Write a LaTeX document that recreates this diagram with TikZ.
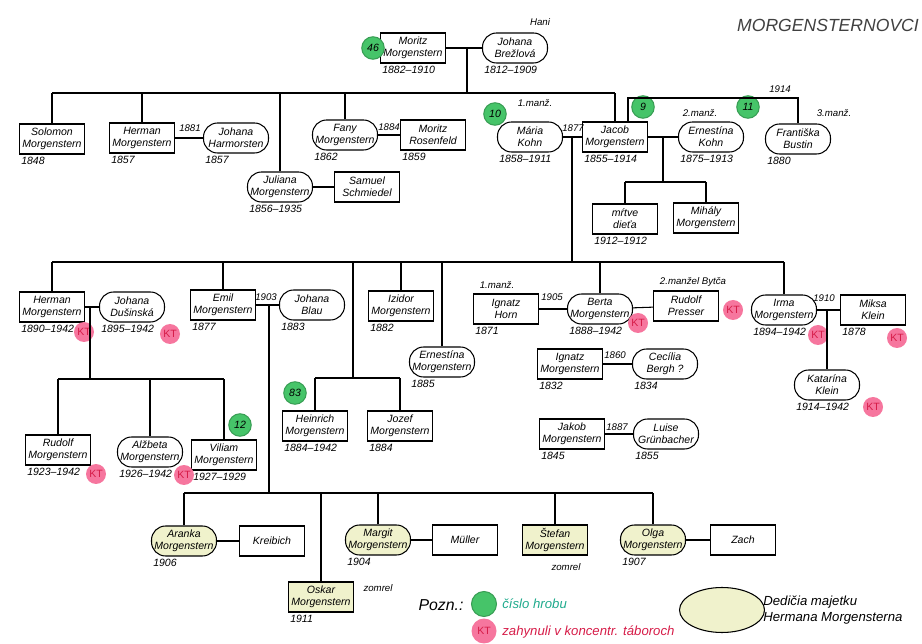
\documentclass[tikz,border=0pt]{standalone}
\usepackage{fontspec}
\setmainfont{Liberation Sans}
\usetikzlibrary{shapes.geometric}
\definecolor{gravegreen}{RGB}{70,196,105}
\definecolor{ktpink}{RGB}{246,118,158}
\definecolor{ktred}{RGB}{214,28,72}
\definecolor{heirfill}{RGB}{240,242,204}
\definecolor{legendgreen}{RGB}{30,170,140}

\begin{document}
\begin{tikzpicture}[x=0.02cm, y=-0.02cm, line width=0.6pt,
  man/.style={draw, minimum width=1.3cm, minimum height=0.6cm, inner sep=1pt,
    align=center, font=\fontsize{6}{7}\selectfont\itshape},
  woman/.style={man, rounded corners=8pt},
  heir/.style={fill=heirfill},
  yr/.style={font=\fontsize{6}{7}\selectfont\itshape, inner sep=1pt, anchor=north west},
  yrs/.style={label={[yr]south west:#1}},
  note/.style={font=\fontsize{5.5}{6}\selectfont\itshape, inner sep=1pt},
  grave/.style={circle, fill=gravegreen, draw=gravegreen!80!black, minimum size=0.45cm,
    inner sep=0pt, font=\fontsize{6}{7}\selectfont\itshape},
  kt/.style={circle, fill=ktpink, minimum size=0.4cm, inner sep=0pt, text=ktred,
    font=\fontsize{6}{7}\selectfont}]
\useasboundingbox (0,0) rectangle (922,644);

\node [font=\fontsize{10}{12}\selectfont\itshape, text=black!75] (title) at (828,25) {MORGENSTERNOVCI};

\node [man, yrs=1882--1910] (moritz) at (413,48) {Moritz\\Morgenstern};
\node [woman, yrs=1812--1909] (johanaB) at (515,48) {Johana\\Brežlová};
\node [note] (hani) at (540,22) {Hani};
\node [grave] (g46) at (373,48) {46};
\coordinate (c0) at (467,48);
\coordinate (bus1L) at (52,93);
\coordinate (bus1R) at (615,93);
\draw (moritz) -- (johanaB);
\draw (c0) -- (c0 |- bus1L);
\draw (bus1L) -- (bus1R);

\node [man, yrs=1848] (solomon) at (52,139) {Solomon\\Morgenstern};
\node [man, yrs=1857] (herman) at (142,138) {Herman\\Morgenstern};
\node [woman, yrs=1857] (johanaH) at (236,138) {Johana\\Harmorsten};
\node [note] (y1881) at (190,128) {1881};
\node [woman, yrs=1856--1935] (juliana) at (280,187) {Juliana\\Morgenstern};
\node [man] (samuel) at (367,187) {Samuel\\Schmiedel};
\node [woman, yrs=1862] (fany) at (345,135) {Fany\\Morgenstern};
\node [man, yrs=1859] (moritzR) at (433,135) {Moritz\\Rosenfeld};
\node [note] (y1884) at (389,127) {1884};
\draw (herman) -- (johanaH);
\draw (juliana) -- (samuel);
\draw (fany) -- (moritzR);
\foreach \n in {solomon, herman, juliana, fany}
  \draw (\n.north) -- (\n.north |- bus1L);

\node [woman, yrs=1858--1911] (maria) at (530,137) {Mária\\Kohn};
\node [man, yrs=1855--1914] (jacob) at (615,137) {Jacob\\Morgenstern};
\node [woman, yrs=1875--1913] (ernestinaK) at (711,137) {Ernestína\\Kohn};
\node [woman, yrs=1880] (frantiska) at (798,139) {Františka\\Bustin};
\node [note] (y1877) at (573,128) {1877};
\node [note] (manz1) at (535,103) {1.manž.};
\node [note] (manz2) at (700,113) {2.manž.};
\node [note] (manz3) at (834,113) {3.manž.};
\node [note] (y1914) at (780,89) {1914};
\node [grave] (g10) at (495,114) {10};
\node [grave] (g9) at (643,107) {9};
\node [grave] (g11) at (748,107) {11};
\coordinate (m3) at (628,98);
\draw (jacob.north) -- (jacob.north |- bus1L);
\draw (jacob.north -| m3) -- (m3) -| (frantiska.north);
\draw (maria) -- (jacob);
\draw (jacob) -- (ernestinaK);

\coordinate (c2) at (663,137);
\coordinate (bus2L) at (625,182);
\coordinate (bus2R) at (706,182);
\node [man, yrs=1912--1912] (mrtve) at (625,219) {mŕtve\\dieťa};
\node [man] (mihaly) at (706,218) {Mihály\\Morgenstern};
\draw (c2) -- (c2 |- bus2L);
\draw (bus2L) -- (bus2R);
\draw (mrtve.north) -- (mrtve.north |- bus2L);
\draw (mihaly.north) -- (mihaly.north |- bus2L);

\coordinate (c1) at (572,137);
\coordinate (bus3L) at (52,262);
\coordinate (bus3R) at (784,262);
\draw (c1) -- (c1 |- bus3L);
\draw (bus3L) -- (bus3R);

\node [man, yrs=1890--1942] (hermanM) at (52,307) {Herman\\Morgenstern};
\node [woman, yrs=1895--1942] (johanaD) at (132,307) {Johana\\Dušinská};
\node [kt] (kt1) at (84,332) {KT};
\node [kt] (kt2) at (170,334) {KT};
\coordinate (c3) at (90,307);
\coordinate (bus4L) at (58,379);
\coordinate (bus4R) at (224,379);
\draw (hermanM) -- (johanaD);
\draw (c3) -- (c3 |- bus4L);
\draw (bus4L) -- (bus4R);

\node [man, yrs=1923--1942] (rudolfM) at (58,450) {Rudolf\\Morgenstern};
\node [woman, yrs=1926--1942] (alzbeta) at (150,452) {Alžbeta\\Morgenstern};
\node [man, yrs=1927--1929] (viliam) at (224,455) {Viliam\\Morgenstern};
\node [kt] (kt3) at (96,474) {KT};
\node [kt] (kt4) at (184,475) {KT};
\node [grave] (g12) at (240,425) {12};
\foreach \n in {rudolfM, alzbeta, viliam}
  \draw (\n.north) -- (\n.north |- bus4L);

\node [man, yrs=1877] (emil) at (223,305) {Emil\\Morgenstern};
\node [woman, yrs=1883] (johanaBl) at (312,305) {Johana\\Blau};
\node [note] (y1903) at (266,297) {1903};
\coordinate (c4) at (269,305);
\coordinate (bus5L) at (184,493);
\coordinate (bus5R) at (653,493);
\draw (emil) -- (johanaBl);
\draw (c4) -- (c4 |- bus5L);
\draw (bus5L) -- (bus5R);

\coordinate (c5) at (353,378);
\coordinate (bus6L) at (315,378);
\coordinate (bus6R) at (400,378);
\node [man, yrs=1884--1942] (heinrich) at (315,426) {Heinrich\\Morgenstern};
\node [man, yrs=1884] (jozef) at (400,426) {Jozef\\Morgenstern};
\node [grave] (g83) at (295,393) {83};
\draw (c5 |- bus3L) -- (c5);
\draw (bus6L) -- (bus6R);
\draw (heinrich.north) -- (heinrich.north |- bus6L);
\draw (jozef.north) -- (jozef.north |- bus6L);

\node [man, yrs=1882] (izidor) at (401,306) {Izidor\\Morgenstern};
\node [woman, yrs=1885] (ernestinaM) at (442,362) {Ernestína\\Morgenstern};

\node [man, yrs=1871] (ignatzH) at (506,309) {Ignatz\\Horn};
\node [note] (manz4) at (497,285) {1.manž.};
\node [woman, yrs=1888--1942] (berta) at (600,309) {Berta\\Morgenstern};
\node [note] (y1905) at (552,297) {1905};
\node [man] (rudolfP) at (686,306) {Rudolf\\Presser};
\node [note] (manz5) at (693,282) {2.manžel Bytča};
\node [kt] (kt5) at (638,323) {KT};
\node [kt] (kt6) at (733,310) {KT};
\draw (ignatzH) -- (berta);
\draw (berta) -- (rudolfP);

\node [woman, yrs=1894--1942] (irma) at (784,310) {Irma\\Morgenstern};
\node [man, yrs=1878] (miksa) at (873,310) {Miksa\\Klein};
\node [note] (y1910) at (824,298) {1910};
\node [kt] (kt7) at (818,335) {KT};
\node [kt] (kt8) at (897,338) {KT};
\node [woman, yrs=1914--1942] (katarina) at (827,385) {Katarína\\Klein};
\node [kt] (kt9) at (873,407) {KT};
\coordinate (c6) at (827,310);
\draw (irma) -- (miksa);
\draw (c6) -- (katarina);

\foreach \n in {hermanM, emil, izidor, ernestinaM, berta, irma}
  \draw (\n.north) -- (\n.north |- bus3L);

\node [man, yrs=1832] (ignatzM) at (570,364) {Ignatz\\Morgenstern};
\node [woman, yrs=1834] (cecilia) at (665,364) {Cecília\\Bergh ?};
\node [note] (y1860) at (615,355) {1860};
\node [man, yrs=1845] (jakobM) at (572,434) {Jakob\\Morgenstern};
\node [woman, yrs=1855] (luise) at (666,434) {Luise\\Grünbacher};
\node [note] (y1887) at (617,427) {1887};
\draw (ignatzM) -- (cecilia);
\draw (jakobM) -- (luise);

\node [woman, heir, yrs=1906] (aranka) at (184,541) {Aranka\\Morgenstern};
\node [man] (kreibich) at (272,541) {Kreibich};
\node [man, heir, yrs=1911] (oskar) at (321,597) {Oskar\\Morgenstern};
\node [note] (zomrel1) at (378,588) {zomrel};
\node [woman, heir, yrs=1904] (margit) at (378,540) {Margit\\Morgenstern};
\node [man] (muller) at (465,540) {Müller};
\node [man, heir] (stefan) at (555,540) {Štefan\\Morgenstern};
\node [note] (zomrel2) at (566,567) {zomrel};
\node [woman, heir, yrs=1907] (olga) at (653,540) {Olga\\Morgenstern};
\node [man] (zach) at (743,540) {Zach};
\draw (aranka) -- (kreibich);
\draw (margit) -- (muller);
\draw (olga) -- (zach);
\foreach \n in {aranka, oskar, margit, stefan, olga}
  \draw (\n.north) -- (\n.north |- bus5L);

\node [font=\fontsize{9}{10}\selectfont\itshape] (pozn) at (441,605) {Pozn.:};
\node [grave, minimum size=0.5cm] (lgrave) at (484,604) {};
\node [anchor=west, text=legendgreen, font=\fontsize{7.5}{9}\selectfont\itshape] (lgravetext) at (496,604) {číslo hrobu};
\node [kt, minimum size=0.5cm] (lkt) at (484,631) {KT};
\node [anchor=west, text=ktred, font=\fontsize{7.5}{9}\selectfont\itshape] (lkttext) at (496,632) {zahynuli v koncentr. táboroch};
\node [ellipse, draw, fill=heirfill, minimum width=1.7cm, minimum height=0.9cm] (lheir) at (722,610) {};
\node [anchor=west, align=left, font=\fontsize{7.5}{9}\selectfont\itshape] (lheirtext) at (757,610) {Dedičia majetku\\Hermana Morgensterna};

\end{tikzpicture}
\end{document}
